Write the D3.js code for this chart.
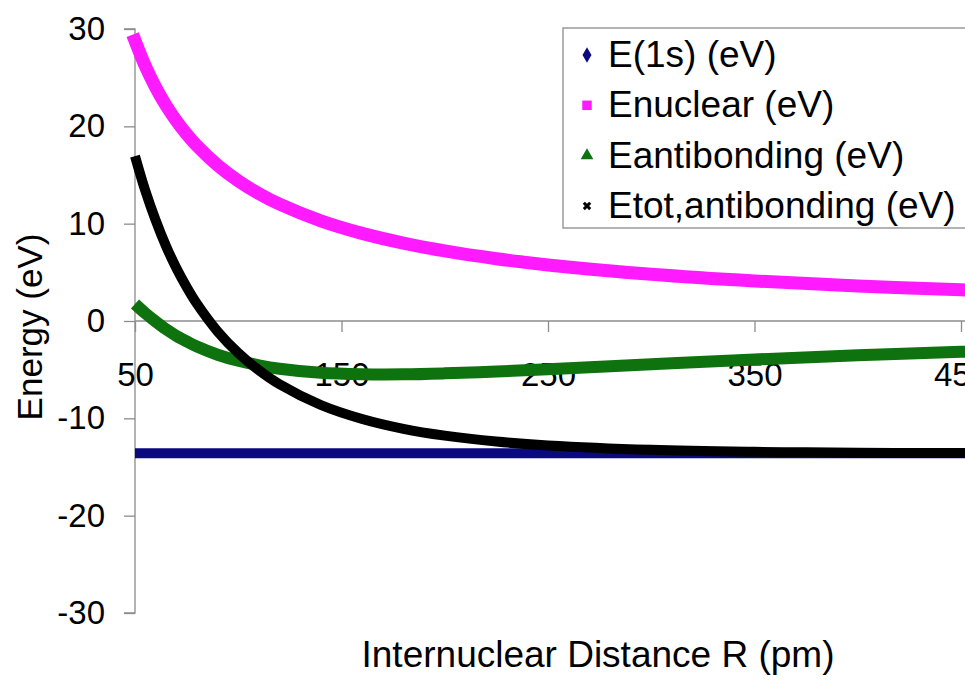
<!DOCTYPE html>
<html><head><meta charset="utf-8">
<script src="https://cdn.jsdelivr.net/npm/d3@7"></script>
<style>html,body{margin:0;padding:0;background:#fff;overflow:hidden}svg{display:block}text{font-family:"Liberation Sans",Arial,sans-serif;fill:#000}</style>
</head><body><svg id="c" width="965" height="680"></svg>
<script>
const distance = [50,55,60,65,70,75,80,90,100,110,120,140,160,180,200,225,250,300,350,400,450,460];
const e1s = [-13.6,-13.6,-13.6,-13.6,-13.6,-13.6,-13.6,-13.6,-13.6,-13.6,-13.6,-13.6,-13.6,-13.6,-13.6,-13.6,-13.6,-13.6,-13.6,-13.6,-13.6,-13.6];
const enuclear = [28.8,26.18,24.0,22.15,20.57,19.2,18.0,16.0,14.4,13.09,12.0,10.29,9.0,8.0,7.2,6.4,5.76,4.8,4.11,3.6,3.2,3.13];
const eantibonding = [1.75,0.8,-0.05,-0.84,-1.52,-2.1,-2.63,-3.47,-4.09,-4.55,-4.9,-5.32,-5.47,-5.48,-5.38,-5.19,-4.95,-4.44,-3.95,-3.53,-3.17,-3.1];
const etot = [16.95,13.38,10.35,7.71,5.45,3.5,1.77,-1.07,-3.29,-5.06,-6.5,-8.63,-10.07,-11.08,-11.78,-12.39,-12.79,-13.24,-13.44,-13.53,-13.57,-13.57];
const xTicks = [50,150,250,350,450];
const yTicks = [-30,-20,-10,0,10,20,30];
const seriesNames = ["E(1s) (eV)","Enuclear (eV)","Eantibonding (eV)","Etot,antibonding (eV)"];
const seriesColors = ["#0a0a80","#ff1aff","#0e730e","#000000"];
const seriesWidths = [10,13,12,10];

const svg = d3.select("#c");
const x = d3.scaleLinear().domain([50,450]).range([135,961]);
const y = d3.scaleLinear().domain([-30,30]).range([613,29]);
const axisColor = "#8c8c8c";

// Y axis
const gy = svg.append("g").attr("transform","translate(135,0)")
  .call(d3.axisLeft(y).tickValues(yTicks).tickSize(11).tickPadding(19).tickFormat(d=>String(d)));
gy.select(".domain").attr("stroke",axisColor).attr("stroke-width",1.3).attr("d","M-11,"+y(30)+"H0V"+y(-30)+"H-11");
gy.selectAll(".tick line").attr("stroke",axisColor).attr("stroke-width",1.3);
gy.selectAll(".tick text").style("font-size","33px").attr("fill","#000").attr("font-family",null);

// X axis at y=0
const gx = svg.append("g").attr("transform","translate(0,"+y(0)+")")
  .call(d3.axisBottom(x).tickValues(xTicks).tickSize(11).tickPadding(31).tickFormat(d=>String(d)));
gx.select(".domain").attr("stroke",axisColor).attr("stroke-width",1.3).attr("d","M"+x(50)+",0H1000");
gx.selectAll(".tick line").attr("stroke",axisColor).attr("stroke-width",1.3);
gx.selectAll(".tick text").style("font-size","33px").attr("fill","#000").attr("font-family",null);

svg.append("clipPath").attr("id","clip").append("rect").attr("x",0).attr("y",0).attr("width",965).attr("height",680);

const allSeries = [e1s,enuclear,eantibonding,etot];
const line = d3.line().x((d,i)=>x(distance[i])).y(d=>y(d)).curve(d3.curveCatmullRom);
const gl = svg.append("g").attr("clip-path","url(#clip)");
allSeries.forEach((s,k)=>{
  gl.append("path").datum(s).attr("d",line).attr("fill","none")
    .attr("stroke",seriesColors[k]).attr("stroke-width",seriesWidths[k])
    .attr("stroke-linecap", k===1 ? "square" : "butt");
});

// axis titles
svg.append("text").attr("transform","translate(42,327) rotate(-90)").attr("text-anchor","middle")
  .style("font-size","35px").text("Energy (eV)");
svg.append("text").attr("x",598).attr("y",667).attr("text-anchor","middle")
  .style("font-size","37px").text("Internuclear Distance R (pm)");

// legend
const lg = svg.append("g");
lg.append("rect").attr("x",563).attr("y",28).attr("width",420).attr("height",200)
  .attr("fill","#fff").attr("stroke","#9a9a9a").attr("stroke-width",1.5);
const symTypes = [d3.symbolDiamond, d3.symbolSquare, d3.symbolTriangle, d3.symbolCross];
const symSizes = [70,90,70,45];
seriesNames.forEach((n,k)=>{
  const cy = 55 + k*50.3;
  lg.append("path").attr("d",d3.symbol().type(symTypes[k]).size(symSizes[k])())
    .attr("transform","translate(587,"+cy+")"+(k===3?" rotate(45)":""))
    .attr("fill",seriesColors[k]);
  lg.append("text").attr("x",608).attr("y",cy+12).style("font-size","37px").text(n);
});
</script></body></html>
